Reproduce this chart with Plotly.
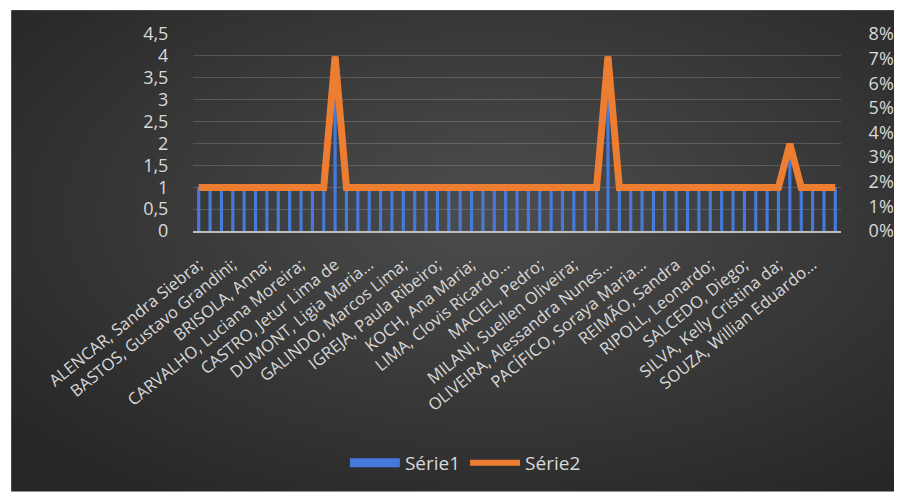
import base64
import plotly.graph_objects as go

# Author labels shown on the category axis (one every third category)
authors = [
    "ALENCAR, Sandra Siebra;",
    "BASTOS, Gustavo Grandini;",
    "BRISOLA, Anna;",
    "CARVALHO, Luciana Moreira;",
    "CASTRO, Jetur Lima de",
    "DUMONT, Ligia Maria…",
    "GALINDO, Marcos Lima;",
    "IGREJA, Paula Ribeiro;",
    "KOCH, Ana Maria;",
    "LIMA, Clovis Ricardo…",
    "MACIEL, Pedro;",
    "MILANI, Suellen Oliveira;",
    "OLIVEIRA, Alessandra Nunes…",
    "PACÍFICO, Soraya Maria…",
    "REIMÃO, Sandra",
    "RIPOLL, Leonardo;",
    "SALCEDO, Diego;",
    "SILVA, Kelly Cristina da;",
    "SOUZA, Willian Eduardo…",
]

# Série1: counts per author (57 categories)
serie1 = [
    1, 1, 1, 1, 1, 1, 1, 1, 1, 1, 1, 1, 4, 1, 1, 1, 1, 1, 1,
    1, 1, 1, 1, 1, 1, 1, 1, 1, 1, 1, 1, 1, 1, 1, 1, 1, 4, 1,
    1, 1, 1, 1, 1, 1, 1, 1, 1, 1, 1, 1, 1, 1, 2, 1, 1, 1, 1,
]

# Série2: share of each author (secondary axis, fraction)
serie2 = [
    0.0177, 0.0177, 0.0177, 0.0177, 0.0177, 0.0177, 0.0177, 0.0177, 0.0177, 0.0177,
    0.0177, 0.0177, 0.0708, 0.0177, 0.0177, 0.0177, 0.0177, 0.0177, 0.0177, 0.0177,
    0.0177, 0.0177, 0.0177, 0.0177, 0.0177, 0.0177, 0.0177, 0.0177, 0.0177, 0.0177,
    0.0177, 0.0177, 0.0177, 0.0177, 0.0177, 0.0177, 0.0708, 0.0177, 0.0177, 0.0177,
    0.0177, 0.0177, 0.0177, 0.0177, 0.0177, 0.0177, 0.0177, 0.0177, 0.0177, 0.0177,
    0.0177, 0.0177, 0.0354, 0.0177, 0.0177, 0.0177, 0.0177,
]

positions = list(range(len(serie1)))
label_step = 3

W, H = 906, 494
ML, MR, MT, MB = 193, 54, 34, 262
PW, PH = W - ML - MR, H - MT - MB

TEXT = "#d9d9d9"
FONT = "Open Sans"
BLUE = "#4579db"
ORANGE = "#ed7d31"

# Dark radial-gradient backdrop of the chart box
box_x, box_y = 8, 10
box_w, box_h = W - box_x, H - box_y
svg = (
    f'<svg xmlns="http://www.w3.org/2000/svg" width="{box_w}" height="{box_h}" '
    f'viewBox="0 0 {box_w} {box_h}" preserveAspectRatio="none">'
    '<defs><radialGradient id="g" cx="0.55" cy="0.42" r="0.72">'
    '<stop offset="0" stop-color="#4d4d4d"/>'
    '<stop offset="1" stop-color="#262626"/>'
    '</radialGradient></defs>'
    f'<rect width="{box_w}" height="{box_h}" fill="url(#g)"/></svg>'
)
bg_src = "data:image/svg+xml;base64," + base64.b64encode(svg.encode()).decode()

fig = go.Figure()

fig.add_trace(go.Bar(
    x=positions, y=serie1, name="Série1",
    marker=dict(color=BLUE, line=dict(width=0)),
    showlegend=False,
))
fig.add_trace(go.Scatter(
    x=positions, y=serie2, name="Série2", yaxis="y2",
    mode="lines", line=dict(color=ORANGE, width=7),
    showlegend=False,
))
# Legend entries
fig.add_trace(go.Scatter(
    x=[None], y=[None], name="Série1", mode="lines",
    line=dict(color=BLUE, width=9),
))
fig.add_trace(go.Scatter(
    x=[None], y=[None], name="Série2", mode="lines",
    line=dict(color=ORANGE, width=6),
))

fig.update_layout(
    width=W, height=H,
    margin=dict(l=ML, r=MR, t=MT, b=MB),
    paper_bgcolor="white",
    plot_bgcolor="rgba(0,0,0,0)",
    separators=", ",
    font=dict(family=FONT, color=TEXT, size=16),
    bargap=0.72,
    images=[dict(
        source=bg_src, xref="paper", yref="paper",
        x=(box_x - ML) / PW, y=1 + (MT - box_y) / PH,
        sizex=box_w / PW, sizey=box_h / PH,
        xanchor="left", yanchor="top", sizing="stretch", layer="below",
    )],
    xaxis=dict(
        range=[-0.5, len(serie1) - 0.5],
        tickmode="array",
        tickvals=positions[::label_step],
        ticktext=authors,
        tickangle=-39,
        tickfont=dict(size=16.5, color=TEXT),
        showgrid=False, zeroline=False,
        showline=True, linecolor="#bdbdbd", linewidth=1.5,
        ticks="outside", ticklen=16, tickcolor="rgba(0,0,0,0)",
    ),
    yaxis=dict(
        range=[0, 4.5], dtick=0.5,
        showgrid=True, gridcolor="rgba(255,255,255,0.16)", gridwidth=1.2,
        zeroline=False,
        ticks="outside", ticklen=20, tickcolor="rgba(0,0,0,0)",
        tickfont=dict(size=18, color=TEXT),
    ),
    yaxis2=dict(
        overlaying="y", side="right",
        range=[0, 0.08], dtick=0.01, tickformat=".0%",
        showgrid=False, zeroline=False,
        ticks="outside", ticklen=23, tickcolor="rgba(0,0,0,0)",
        tickfont=dict(size=18, color=TEXT),
    ),
    legend=dict(
        orientation="h",
        x=(470 - ML) / PW, xanchor="center",
        y=(PH - (465 - MT)) / PH, yanchor="middle",
        bgcolor="rgba(0,0,0,0)",
        font=dict(size=19, color=TEXT),
        itemwidth=50,
    ),
)

fig.write_html("out.html")
